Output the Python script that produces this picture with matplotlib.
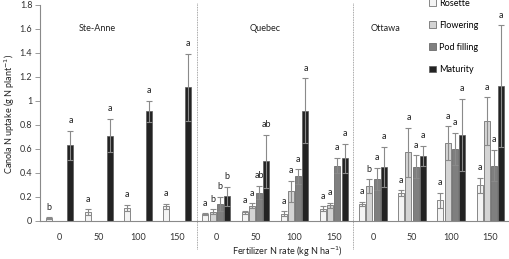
import numpy as np
import matplotlib
matplotlib.use("Agg")
import matplotlib.pyplot as plt
import matplotlib.transforms as mtransforms
from matplotlib.patches import Patch

plt.rcParams['font.family'] = ['Lato', 'DejaVu Sans']

nan = np.nan

rates = ['0', '50', '100', '150'] * 3
sites = ['Ste-Anne', 'Quebec', 'Ottawa']
stages = ['Rosette', 'Flowering', 'Pod filling', 'Maturity']

rosette = [0.02, 0.07, 0.11, 0.12, 0.055, 0.07, 0.06, 0.10, 0.14, 0.23, 0.17, 0.295]
rosette_err = [0.008, 0.025, 0.025, 0.02, 0.008, 0.012, 0.02, 0.02, 0.02, 0.025, 0.065, 0.065]
flowering = [nan, nan, nan, nan, 0.075, 0.125, 0.245, 0.13, 0.29, 0.57, 0.645, 0.83]
flowering_err = [nan, nan, nan, nan, 0.02, 0.02, 0.09, 0.02, 0.055, 0.205, 0.14, 0.2]
pod = [nan, nan, nan, nan, 0.14, 0.235, 0.37, 0.46, 0.35, 0.45, 0.60, 0.46]
pod_err = [nan, nan, nan, nan, 0.06, 0.055, 0.06, 0.065, 0.09, 0.095, 0.135, 0.13]
maturity = [0.63, 0.71, 0.91, 1.11, 0.205, 0.495, 0.915, 0.52, 0.45, 0.54, 0.715, 1.12]
maturity_err = [0.12, 0.14, 0.09, 0.28, 0.08, 0.22, 0.27, 0.12, 0.165, 0.085, 0.30, 0.51]

rosette_let = ['b', 'a', 'a', 'a', 'a', 'a', 'a', 'a', 'a', 'a', 'a', 'a']
flowering_let = ['', '', '', '', 'b', 'a', 'a', 'a', 'b', 'a', 'a', 'a']
pod_let = ['', '', '', '', 'b', 'ab', 'a', 'a', 'a', 'a', 'a', 'a']
maturity_let = ['a', 'a', 'a', 'a', 'b', 'ab', 'a', 'a', 'a', 'a', 'a', 'a']

colors = ['#f4f4f4', '#d4d4d4', '#7f7f7f', '#232323']
values = [rosette, flowering, pod, maturity]
errors = [rosette_err, flowering_err, pod_err, maturity_err]
letters = [rosette_let, flowering_let, pod_let, maturity_let]

fig = plt.figure(figsize=(5.10, 2.59), dpi=100)
ax = fig.add_axes([40/510, 38.3/259, 470/510, 216/259])

x = np.arange(len(rates))
slot = 0.185
width = 0.155
for i in range(4):
    xs = x + (i - 1.5) * slot
    v = np.array(values[i])
    e = np.array(errors[i])
    ax.bar(xs, v, width, color=colors[i], edgecolor='#5a5a5a', linewidth=0.5, zorder=2)
    ax.errorbar(xs, v, yerr=e, fmt='none', ecolor='#8a8a8a', elinewidth=0.8,
                capsize=2.2, capthick=0.8, zorder=3)
    for xi, vi, ei, lab in zip(xs, v, e, letters[i]):
        if lab and not np.isnan(vi):
            ax.annotate(lab, (xi, vi + ei), xytext=(0, 4), textcoords='offset points',
                        ha='center', va='bottom', fontsize=6.5, color='#222222')

ax.set_xlim(-0.5, 11.5)
ax.set_ylim(0, 1.8)
ax.set_yticks(np.arange(0, 1.81, 0.2))
ax.set_yticklabels(['0', '0.2', '0.4', '0.6', '0.8', '1', '1.2', '1.4', '1.6', '1.8'])
ax.set_xticks(x)
ax.set_xticklabels(rates)
ax.tick_params(axis='x', length=0, pad=9, labelsize=6.5, colors='#333333')
ax.tick_params(axis='y', length=3.5, width=0.6, pad=2, labelsize=6.5, colors='#333333', color='#8a8a8a')
for s in ['top', 'right']:
    ax.spines[s].set_visible(False)
for s in ['left', 'bottom']:
    ax.spines[s].set_color('#8a8a8a')
    ax.spines[s].set_linewidth(0.8)

# site separators
trans = mtransforms.blended_transform_factory(ax.transData, ax.transAxes)
for xb in [3.5, 7.5]:
    ax.plot([xb, xb], [-0.13, 1.01], transform=trans, clip_on=False,
            ls=(0, (1, 1)), color='#8a8a8a', lw=0.6)

for name, xc in zip(sites, [0.95, 5.25, 8.33]):
    ax.text(xc, 1.6, name, ha='center', va='center', fontsize=6.5, color='#222222')

handles = [Patch(facecolor=c, edgecolor='#5a5a5a', linewidth=0.5) for c in colors]
fig.legend(handles, stages, loc='upper left', bbox_to_anchor=(429/510, 1.005),
           frameon=False, fontsize=6.5, handlelength=0.75, handleheight=0.75,
           handletextpad=0.4, labelspacing=1.45, borderpad=0, borderaxespad=0)

fig.text(287/510, 1 - 252/259, 'Fertilizer N rate (kg N ha$^{-1}$)', ha='center', va='center',
         fontsize=6.5, color='#222222')
fig.text(10/510, 1 - 114/259, 'Canola N uptake (g N plant$^{-1}$)', ha='center', va='center',
         rotation=90, fontsize=6.5, color='#222222')

fig.savefig('out.png', dpi=100)
